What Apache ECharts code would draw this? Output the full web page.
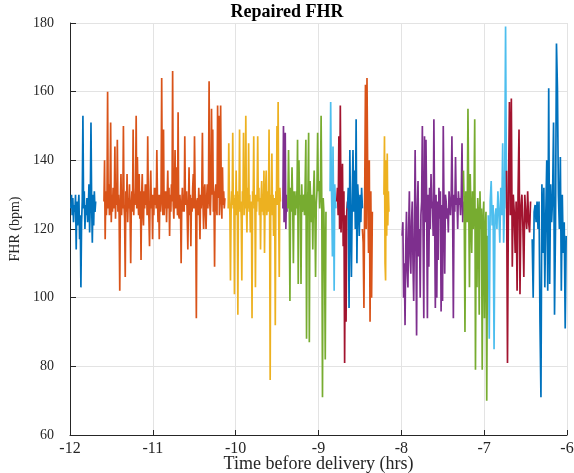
<!DOCTYPE html>
<html><head><meta charset="utf-8">
<script src="https://cdn.jsdelivr.net/npm/echarts@6/dist/echarts.min.js"></script>
<style>html,body{margin:0;padding:0;background:#fff}#c{width:574px;height:473px}</style>
</head><body><div id="c"></div>
<script>
const xTicks = [-12, -11, -10, -9, -8, -7, -6];
const yTicks = [60, 80, 100, 120, 140, 160, 180];
// time span (hrs before delivery) of each recorded segment
const segStart = [-11.99, -11.59, -10.09, -9.43, -9.37, -8.86, -8.78, -8.65, -8.47, -8.21, -7.99, -7.25, -6.95, -6.73, -6.42];
const segEnd   = [-11.69, -10.13, -9.46, -9.38, -8.91, -8.79, -8.65, -8.47, -8.35, -8.15, -7.25, -6.96, -6.73, -6.44, -6.01];
const seg01 = [126,130,124,129,122,127,125,130,114,128,121,126,130,117,124,103,122,128,153,126,131,120,127,124,129,122,126,133,119,128,151,127,116,130,121,131,125,128];
const seg02 = [128,140,117,131,124,129,160,126,133,124,131,151,122,130,125,132,126,
  129,144,123,132,127,146,125,130,124,102,128,136,124,131,126,150,127,123,
  106,131,125,136,122,129,126,133,124,110,127,131,125,149,124,130,127,
  132,153,126,141,129,124,136,123,131,111,130,136,125,121,131,126,133,
  127,133,124,147,128,123,115,131,137,126,130,117,130,124,132,127,
  132,126,143,129,122,130,117,130,125,131,164,128,124,149,124,131,126,
  131,122,129,137,126,132,118,130,125,133,128,166,127,123,131,
  143,126,138,131,124,154,124,123,130,126,110,127,132,125,
  130,125,147,128,127,131,124,114,126,138,124,130,115,129,125,132,
  136,126,147,131,125,94,128,129,124,132,126,117,130,126,132,
  148,127,120,131,133,125,120,129,133,126,131,163,128,124,131,
  155,130,149,125,131,109,131,133,127,124,156,129,153,124,130,
  156,130,123,138,127,131,126,129];
const seg03 = [126,145,130,124,105,124,131,127,148,126,130,101,129,124,137,124,131,95,130,126,149,125,128,123,105,131,127,148,124,130,126,153,127,119,132,126,145,125,130,119,128,124,94,131,127,147,126,130,103,130,125,131,147,128,132,124,129,114,129,134,125,130,124,137,113,128,132,137,124,127,131,125,149,126,76,130,125,142,124,130,118,129,126,92,131,127,150,127,157,124,106,132,128];
const seg04 = [126,150,122,131,148,120,130,125];
const seg05 = [126,143,128,99,132,125,138,127,110,131,127,124,131,126,146,104,140,127,130,104,133,125,127,130,124,133,146,88,127,131,148,87,134,128,122,130,114,130,137,125,106,127,131,148,131,134,126,130,153,127,71,129,125,111,82,125];
const seg06 = [131,157,135,126,112,144,128,102,133,129,126];
const seg07 = [128,132,124,147,120,156,119,130,139,115,131,81,124,93,125,128];
const seg08 = [126,132,97,143,122,106,128,143,125,137,120,152,110,133,128,118,130,122,132,126];
const seg09 = [120,116,97,130,162,120,164,133,113,140,93,131,100,125];
const seg10 = [130,147,110,105,140,118,142,121,131,125];
const seg11 = [118,122,100,110,92,115,125,108,103,120,131,112,107,122,128,110,99,118,
  143,118,89,126,134,112,120,100,124,128,150,119,94,
  147,122,146,125,94,130,109,132,120,136,126,128,118,
  152,124,97,130,100,128,111,132,123,131,96,127,99,
  150,126,107,130,128,123,126,119,131,128,124,129,
  147,125,94,130,125,141,127,129,120,131,127,129,124,130,145,122,128];
const seg12 = [137,126,90,131,126,122,155,128,103,136,124,113,131,120,127,152,79,126,103,129,124,95,131,120,126,79,122,128,94,120,125,70,118];
const seg13 = [124,88,128,134,121,127,85,124,126,120,131,125,116,132,124,145,116,128,179,126];
const seg14 = [137,81,130,157,124,158,109,130,125,113,128,102,130,149,101,126,130,121,106,130,124,120,131,122,119,128];
const seg15 = [117,100,125,127,122,128,120,128,93,71,133,113,132,103,124,140,102,161,104,133,122,129,151,95,120,174,161,130,120,141,102,130,113,122,91,118];
const segValues = [seg01,seg02,seg03,seg04,seg05,seg06,seg07,seg08,seg09,seg10,seg11,seg12,seg13,seg14,seg15];
const palette = ['#0072BD','#D95319','#EDB120','#7E2F8E','#77AC30','#4DBEEE','#A2142F'];

const serif = 'Liberation Serif, Times New Roman, serif';
const series = segValues.map((vals, i) => {
  const s = segStart[i], e = segEnd[i], n = vals.length;
  return {
    type: 'line', showSymbol: false, symbol: 'none', animation: false,
    lineStyle: { width: 1.7, color: palette[i % 7] },
    itemStyle: { color: palette[i % 7] },
    data: vals.map((v, k) => [s + (e - s) * k / (n - 1), v])
  };
});

const chart = echarts.init(document.getElementById('c'), null, { renderer: 'canvas' });
chart.setOption({
  animation: false,
  backgroundColor: '#ffffff',
  title: { text: 'Repaired FHR', left: 'center', top: -2,
    textStyle: { fontFamily: serif, fontWeight: 'bold', fontSize: 18, color: '#000' } },
  grid: { left: 70, right: 7, top: 23, bottom: 38, containLabel: false, outerBoundsMode: 'none' },
  xAxis: {
    type: 'value', min: xTicks[0], max: xTicks[xTicks.length - 1], interval: 1,
    name: 'Time before delivery (hrs)', nameLocation: 'middle', nameGap: 20, nameMoveOverlap: false,
    nameTextStyle: { fontFamily: serif, fontSize: 18, color: '#262626' },
    axisLine: { lineStyle: { color: '#262626', width: 1 } },
    axisTick: { inside: true, length: 5, lineStyle: { color: '#262626' } },
    axisLabel: { margin: 6, fontFamily: serif, fontSize: 16, color: '#262626' },
    splitLine: { show: true, lineStyle: { color: '#e3e3e3', width: 1 } }
  },
  yAxis: {
    type: 'value', min: yTicks[0], max: yTicks[yTicks.length - 1], interval: 20,
    name: 'FHR (bpm)', nameLocation: 'middle', nameGap: 48, nameMoveOverlap: false,
    nameTextStyle: { fontFamily: serif, fontSize: 14, color: '#262626' },
    axisLine: { show: true, lineStyle: { color: '#262626', width: 1 } },
    axisTick: { show: true, inside: true, length: 6, lineStyle: { color: '#262626' } },
    axisLabel: { margin: 16, fontFamily: serif, fontSize: 14, color: '#262626' },
    splitLine: { show: true, lineStyle: { color: '#e3e3e3', width: 1 } }
  },
  series: series
});
</script></body></html>
